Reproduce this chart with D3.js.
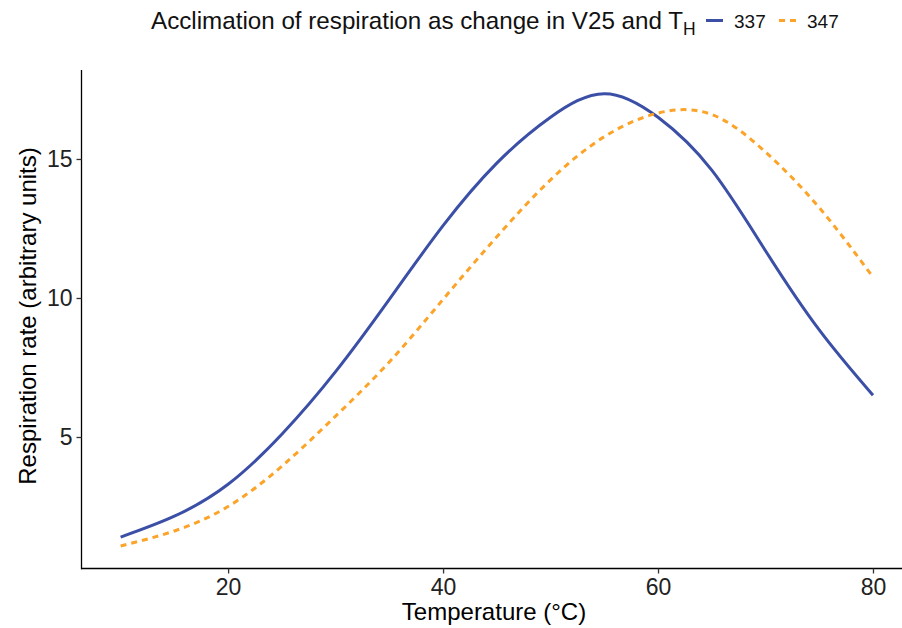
<!DOCTYPE html>
<html>
<head>
<meta charset="utf-8">
<script src="https://cdn.jsdelivr.net/npm/d3@7"></script>
<style>
  body { margin: 0; background: #fff; }
  text { font-family: "Liberation Sans", Arial, sans-serif; }
</style>
</head>
<body>
<script>
// values
const temps = [10, 15, 20, 25, 30, 35, 40, 45, 50, 55, 60, 65, 70, 75, 80]
const resp337 = [1.40, 2.15, 3.3, 5.1, 7.35, 9.95, 12.6, 14.85, 16.5, 17.35, 16.5, 14.6, 11.7, 8.85, 6.5]
const resp347 = [1.08, 1.62, 2.5, 3.95, 5.75, 7.7, 9.95, 12.2, 14.25, 15.8, 16.65, 16.6, 15.25, 13.25, 10.75]
const xTicks = [20, 40, 60, 80]
const yTicks = [5, 10, 15]
const seriesNames = ["337", "347"]
const colors = ["#3B4FA6", "#FBA429"]

const w = 902
const h = 628

const svg = d3.select("body")
  .append("svg")
  .attr("width", w)
  .attr("height", h)

const xScale = d3.scaleLinear()
  .domain([6.5, 83.5])
  .range([83, 910.6])

const yScale = d3.scaleLinear()
  .domain([0.27, 18.15])
  .range([568.5, 71.4])

//axes
const xAxis = d3.axisBottom(xScale)
  .tickValues(xTicks)
  .tickSize(5)
  .tickSizeOuter(0)
  .tickPadding(5)
const gx = svg.append("g")
  .attr("transform", "translate(0," + 568.5 + ")")
  .call(xAxis)
gx.select(".domain").attr("d", "M81,0H902")

const yAxis = d3.axisLeft(yScale)
  .tickValues(yTicks)
  .tickSize(5)
  .tickSizeOuter(0)
  .tickPadding(4)
const gy = svg.append("g")
  .attr("transform", "translate(81.5,0)")
  .call(yAxis)
gy.select(".domain").attr("d", "M0,569.2V70")

svg.selectAll(".domain").attr("stroke", "#000").attr("stroke-width", 1.3)
svg.selectAll(".tick line").attr("stroke", "#333").attr("stroke-width", 1.3)
svg.selectAll(".tick text")
  .attr("font-size", 23)
  .attr("fill", "#222")
  .style("font-family", "Liberation Sans, Arial, sans-serif")

//axis titles
svg.append("text")
  .attr("x", 494)
  .attr("y", 620)
  .attr("text-anchor", "middle")
  .attr("font-size", 24)
  .text("Temperature (°C)")

svg.append("text")
  .attr("transform", "translate(36,316) rotate(-90)")
  .attr("text-anchor", "middle")
  .attr("font-size", 24)
  .text("Respiration rate (arbitrary units)")

//lines
const line = d3.line()
  .x(d => xScale(d[0]))
  .y(d => yScale(d[1]))
  .curve(d3.curveNatural)

svg.append("path")
  .datum(temps.map((t, i) => [t, resp337[i]]))
  .attr("d", line)
  .attr("fill", "none")
  .attr("stroke", colors[0])
  .attr("stroke-width", 3)

svg.append("path")
  .datum(temps.map((t, i) => [t, resp347[i]]))
  .attr("d", line)
  .attr("fill", "none")
  .attr("stroke", colors[1])
  .attr("stroke-width", 3)
  .attr("stroke-dasharray", "6,5")

//title + legend
const title = svg.append("text")
  .attr("x", 151)
  .attr("y", 29)
  .attr("font-size", 24.2)
  .attr("fill", "#111")
title.append("tspan").text("Acclimation of respiration as change in V25 and T")
title.append("tspan").attr("font-size", 17.5).attr("dy", 6).text("H")

const legend = svg.append("g")
seriesNames.forEach((name, i) => {
  const x0 = i == 0 ? 706 : 779
  legend.append("line")
    .attr("x1", x0).attr("x2", x0 + 17)
    .attr("y1", 20.5).attr("y2", 20.5)
    .attr("stroke", colors[i])
    .attr("stroke-width", 3)
    .attr("stroke-dasharray", i == 0 ? null : "6,5")
  legend.append("text")
    .attr("x", x0 + 28)
    .attr("y", 28)
    .attr("font-size", 19)
    .attr("fill", "#111")
    .text(name)
})
</script>
</body>
</html>
